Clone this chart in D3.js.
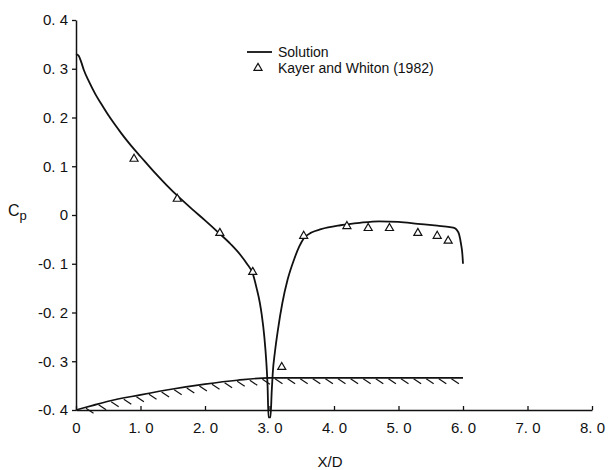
<!DOCTYPE html>
<html>
<head>
<meta charset="utf-8">
<script src="https://cdn.jsdelivr.net/npm/d3@7"></script>
<style>
  body { margin: 0; background: #fff; }
  svg text { font-family: "Liberation Sans", Arial, sans-serif; fill: #111; }
</style>
</head>
<body>
<div id="chart"></div>
<script>
// solution curve (x/D, Cp)
const solX  = [0, 0.04, 0.08, 0.12, 0.2, 0.3, 0.4, 0.5, 0.6, 0.7, 0.8, 0.9, 1.0, 1.2, 1.4, 1.6, 1.8, 2.0, 2.2, 2.4, 2.55, 2.65, 2.74,
               2.8, 2.85, 2.88, 2.92, 2.95, 2.97, 2.985,
               3.015, 3.035, 3.05, 3.085, 3.13, 3.2, 3.28, 3.39, 3.46, 3.53, 3.65, 3.8,
               4.1, 4.4, 4.7, 5.0, 5.3, 5.6, 5.8, 5.87, 5.9, 5.94, 5.97, 5.99, 6.0];
const solCp = [0.330, 0.327, 0.314, 0.298, 0.274, 0.248, 0.226, 0.205, 0.186, 0.168, 0.151, 0.135, 0.120, 0.090, 0.062, 0.036, 0.012, -0.011, -0.035, -0.060, -0.082, -0.100, -0.120,
               -0.150, -0.180, -0.205, -0.250, -0.300, -0.350, -0.415,
               -0.415, -0.360, -0.325, -0.280, -0.236, -0.180, -0.133, -0.088, -0.065, -0.048, -0.036, -0.029,
               -0.021, -0.016, -0.013, -0.014, -0.018, -0.022, -0.025, -0.027, -0.030, -0.040, -0.060, -0.080, -0.100];

// Kayer and Whiton (1982) measurements
const expX  = [0.9, 1.57, 2.23, 2.74, 3.19, 3.53, 4.2, 4.53, 4.86, 5.3, 5.6, 5.77];
const expCp = [0.115, 0.033, -0.037, -0.117, -0.312, -0.043, -0.023, -0.027, -0.027, -0.037, -0.043, -0.053];

// body wall shown along the bottom
const wallX  = [0, 0.25, 0.5, 1.0, 1.5, 2.0, 2.5, 3.0, 6.0];
const wallCp = [-0.400, -0.391, -0.382, -0.369, -0.357, -0.347, -0.339, -0.334, -0.334];

const xTicks = [0, 1, 2, 3, 4, 5, 6, 7, 8];
const xTickLabels = ["0", "1. 0", "2. 0", "3. 0", "4. 0", "5. 0", "6. 0", "7. 0", "8. 0"];
const yTicks = [0.4, 0.3, 0.2, 0.1, 0, -0.1, -0.2, -0.3, -0.4];
const yTickLabels = ["0. 4", "0. 3", "0. 2", "0. 1", "0", "-0. 1", "-0. 2", "-0. 3", "-0. 4"];

const width = 610, height = 470;

const svg = d3.select("#chart")
  .append("svg")
    .attr("width", width)
    .attr("height", height);

const x = d3.scaleLinear().domain([0, 8]).range([76, 592]);
const y = d3.scaleLinear().domain([-0.4, 0.4]).range([410, 20]);

// x axis, ticks pointing up
svg.append("g")
  .attr("transform", `translate(0,${y(-0.4)})`)
  .call(d3.axisBottom(x)
    .tickValues(xTicks)
    .tickSizeInner(-4)
    .tickSizeOuter(0)
    .tickPadding(12)
    .tickFormat((d, i) => xTickLabels[i]));

// y axis, ticks pointing left
svg.append("g")
  .attr("transform", `translate(${x(0)},0)`)
  .call(d3.axisLeft(y)
    .tickValues(yTicks)
    .tickSizeInner(4)
    .tickSizeOuter(0)
    .tickPadding(4)
    .tickFormat((d, i) => yTickLabels[i]));

svg.selectAll(".domain").attr("stroke", "#111").attr("stroke-width", 1.5);
svg.selectAll(".tick line").attr("stroke", "#111").attr("stroke-width", 1.3);
svg.selectAll(".tick text").style("font-size", "15px").attr("fill", "#111");

// axis titles
svg.append("text")
  .attr("x", x(3.94)).attr("y", 467)
  .attr("text-anchor", "middle")
  .style("font-size", "15px")
  .text("X/D");

const cp = svg.append("text")
  .attr("x", 8).attr("y", 216)
  .style("font-size", "16px");
cp.append("tspan").text("C");
cp.append("tspan").attr("dy", 4).style("font-size", "13px").text("p");

// wall with hatching
const wallLine = d3.line()
  .x((d, i) => x(wallX[i]))
  .y((d, i) => y(wallCp[i]))
  .curve(d3.curveMonotoneX);

svg.append("path")
  .attr("d", wallLine(wallX))
  .attr("fill", "none")
  .attr("stroke", "#111")
  .attr("stroke-width", 1.6);

const wallAt = d3.scaleLinear().domain(wallX).range(wallCp);
const hatchPos = d3.range(x(0) + 10, x(6) - 4, 12.6);
svg.append("g")
  .selectAll("line")
  .data(hatchPos)
  .join("line")
    .attr("x1", d => d)
    .attr("y1", d => y(wallAt(x.invert(d))) + 1)
    .attr("x2", d => d + 7.5)
    .attr("y2", d => y(wallAt(x.invert(d))) + 6)
    .attr("stroke", "#111")
    .attr("stroke-width", 1.2);

// solution line
const solLine = d3.line()
  .x((d, i) => x(solX[i]))
  .y((d, i) => y(solCp[i]))
  .curve(d3.curveMonotoneX);

svg.append("path")
  .attr("d", solLine(solX))
  .attr("fill", "none")
  .attr("stroke", "#111")
  .attr("stroke-width", 1.8);

// experimental points
const tri = d3.symbol().type(d3.symbolTriangle).size(28);
svg.append("g")
  .selectAll("path")
  .data(expX)
  .join("path")
    .attr("d", tri)
    .attr("transform", (d, i) => `translate(${x(d)},${y(expCp[i])})`)
    .attr("fill", "#fff")
    .attr("stroke", "#111")
    .attr("stroke-width", 1.2);

// legend
const legend = svg.append("g").attr("transform", "translate(247,52)");
legend.append("line")
  .attr("x1", 0).attr("x2", 25).attr("y1", 0).attr("y2", 0)
  .attr("stroke", "#111").attr("stroke-width", 1.8);
legend.append("text")
  .attr("x", 31).attr("y", 5)
  .style("font-size", "14px")
  .text("Solution");
legend.append("path")
  .attr("d", tri)
  .attr("transform", "translate(11,16)")
  .attr("fill", "#fff").attr("stroke", "#111").attr("stroke-width", 1.2);
legend.append("text")
  .attr("x", 31).attr("y", 21)
  .style("font-size", "14px")
  .text("Kayer and Whiton (1982)");
</script>
</body>
</html>
